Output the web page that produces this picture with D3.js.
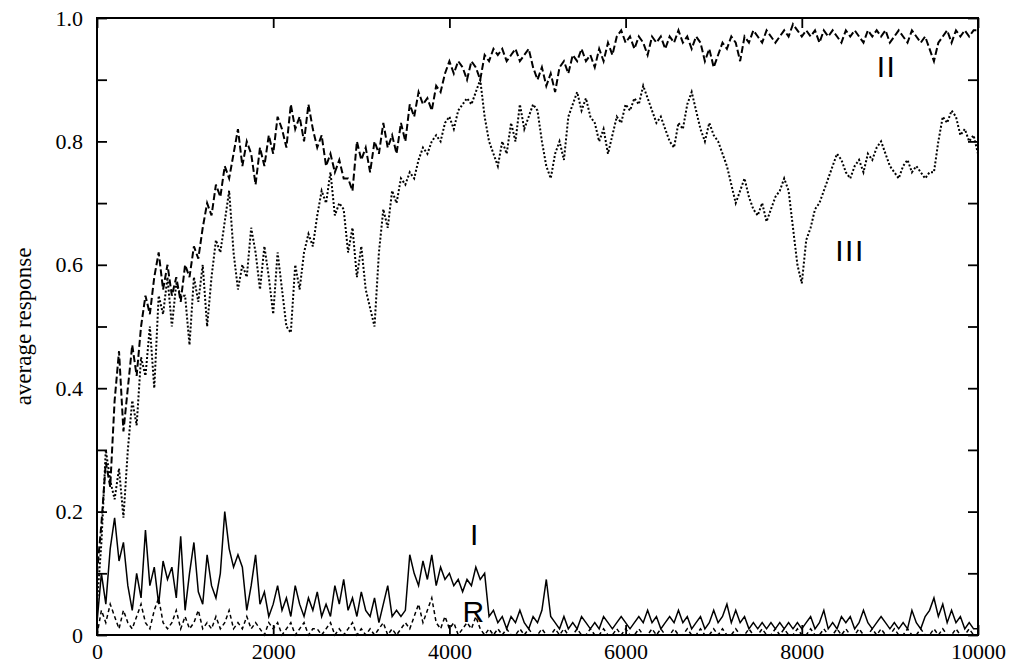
<!DOCTYPE html>
<html>
<head>
<meta charset="utf-8">
<script src="https://cdnjs.cloudflare.com/ajax/libs/d3/7.8.5/d3.min.js"></script>
<style>
body { margin: 0; background: #fff; }
</style>
</head>
<body>
<div id="plot"></div>
<script>
// samples are every 50 steps, 0..10000
const step = 50;

const seriesII = [
  0.10,0.18,0.28,0.24,0.38,0.46,0.33,0.40,0.47,0.42,
  0.50,0.55,0.52,0.58,0.62,0.56,0.60,0.55,0.58,0.54,
  0.60,0.58,0.63,0.61,0.66,0.70,0.68,0.73,0.71,0.76,
  0.74,0.78,0.82,0.76,0.80,0.78,0.73,0.79,0.76,0.81,
  0.78,0.84,0.82,0.79,0.86,0.82,0.84,0.80,0.86,0.82,
  0.79,0.81,0.76,0.78,0.75,0.77,0.74,0.74,0.72,0.80,
  0.77,0.79,0.75,0.80,0.78,0.83,0.79,0.81,0.78,0.83,
  0.80,0.86,0.84,0.88,0.86,0.87,0.85,0.89,0.88,0.91,
  0.93,0.91,0.93,0.92,0.90,0.93,0.92,0.90,0.94,0.93,
  0.95,0.94,0.95,0.93,0.94,0.95,0.93,0.94,0.95,0.92,
  0.90,0.92,0.89,0.91,0.88,0.92,0.93,0.91,0.94,0.93,
  0.95,0.93,0.94,0.92,0.95,0.93,0.96,0.94,0.97,0.98,
  0.96,0.97,0.95,0.97,0.96,0.94,0.97,0.96,0.97,0.95,
  0.97,0.96,0.98,0.96,0.97,0.95,0.97,0.96,0.93,0.95,
  0.92,0.94,0.96,0.95,0.97,0.96,0.93,0.97,0.96,0.98,
  0.97,0.96,0.98,0.97,0.96,0.97,0.98,0.97,0.99,0.98,
  0.97,0.98,0.97,0.98,0.96,0.98,0.97,0.98,0.97,0.96,
  0.98,0.97,0.98,0.97,0.96,0.98,0.97,0.98,0.97,0.98,
  0.96,0.97,0.98,0.97,0.96,0.98,0.97,0.96,0.97,0.95,
  0.93,0.96,0.97,0.98,0.96,0.98,0.97,0.98,0.97,0.98,0.98
];

const seriesIII = [
  0.05,0.15,0.30,0.25,0.22,0.27,0.19,0.30,0.38,0.34,
  0.45,0.42,0.50,0.40,0.55,0.52,0.58,0.50,0.57,0.55,
  0.55,0.47,0.58,0.54,0.60,0.50,0.58,0.64,0.62,0.67,
  0.72,0.62,0.56,0.60,0.58,0.66,0.62,0.56,0.63,0.58,
  0.52,0.62,0.56,0.50,0.49,0.60,0.56,0.62,0.65,0.63,
  0.68,0.72,0.70,0.75,0.68,0.70,0.69,0.62,0.66,0.58,
  0.63,0.56,0.53,0.50,0.62,0.69,0.66,0.72,0.70,0.74,
  0.73,0.75,0.74,0.77,0.79,0.78,0.80,0.81,0.80,0.83,
  0.84,0.82,0.85,0.86,0.87,0.86,0.88,0.90,0.84,0.80,
  0.78,0.76,0.80,0.78,0.83,0.80,0.86,0.82,0.84,0.86,
  0.85,0.80,0.76,0.74,0.78,0.80,0.77,0.84,0.86,0.88,
  0.85,0.87,0.84,0.83,0.80,0.82,0.78,0.81,0.84,0.83,
  0.86,0.85,0.87,0.86,0.89,0.87,0.85,0.83,0.84,0.82,
  0.80,0.79,0.83,0.82,0.86,0.88,0.85,0.82,0.80,0.83,
  0.81,0.80,0.78,0.76,0.73,0.70,0.72,0.74,0.71,0.69,
  0.68,0.70,0.67,0.69,0.71,0.72,0.74,0.72,0.66,0.60,
  0.57,0.64,0.66,0.69,0.70,0.72,0.74,0.76,0.78,0.77,
  0.75,0.74,0.76,0.77,0.75,0.78,0.77,0.79,0.80,0.78,
  0.76,0.75,0.74,0.76,0.77,0.75,0.76,0.75,0.74,0.75,
  0.75,0.80,0.84,0.83,0.85,0.84,0.81,0.82,0.80,0.81,0.78
];

const seriesI = [
  0.02,0.10,0.05,0.14,0.19,0.12,0.15,0.08,0.04,0.10,
  0.06,0.17,0.08,0.11,0.05,0.12,0.09,0.11,0.06,0.16,
  0.04,0.10,0.15,0.07,0.05,0.13,0.08,0.06,0.10,0.20,
  0.14,0.11,0.13,0.11,0.04,0.08,0.13,0.05,0.07,0.03,
  0.05,0.08,0.04,0.06,0.03,0.08,0.05,0.03,0.06,0.04,
  0.07,0.03,0.05,0.03,0.08,0.05,0.09,0.04,0.06,0.03,
  0.07,0.04,0.03,0.06,0.02,0.05,0.08,0.03,0.04,0.03,
  0.04,0.13,0.10,0.08,0.12,0.09,0.13,0.08,0.11,0.09,
  0.10,0.08,0.09,0.07,0.09,0.08,0.11,0.09,0.10,0.03,
  0.04,0.02,0.03,0.01,0.03,0.02,0.04,0.02,0.01,0.03,
  0.02,0.04,0.09,0.03,0.02,0.01,0.03,0.01,0.02,0.01,
  0.03,0.02,0.01,0.02,0.01,0.03,0.02,0.01,0.02,0.03,
  0.02,0.01,0.02,0.03,0.02,0.04,0.02,0.03,0.01,0.02,
  0.03,0.02,0.04,0.02,0.03,0.01,0.02,0.03,0.01,0.02,
  0.04,0.02,0.03,0.05,0.02,0.04,0.02,0.03,0.01,0.02,
  0.01,0.02,0.01,0.02,0.01,0.02,0.01,0.02,0.01,0.02,
  0.01,0.02,0.03,0.01,0.02,0.04,0.01,0.02,0.01,0.03,
  0.02,0.03,0.01,0.02,0.04,0.02,0.01,0.02,0.03,0.02,
  0.01,0.02,0.01,0.02,0.01,0.04,0.02,0.01,0.03,0.04,
  0.06,0.03,0.05,0.02,0.04,0.02,0.03,0.01,0.02,0.01,0.01
];

const seriesR = [
  0.00,0.04,0.02,0.05,0.03,0.01,0.04,0.02,0.01,0.03,
  0.05,0.02,0.01,0.04,0.06,0.02,0.01,0.02,0.04,0.01,
  0.03,0.01,0.02,0.04,0.01,0.02,0.01,0.03,0.01,0.02,
  0.04,0.01,0.02,0.01,0.03,0.01,0.02,0.01,0.00,0.02,
  0.01,0.02,0.00,0.01,0.02,0.00,0.01,0.02,0.00,0.01,
  0.01,0.00,0.01,0.02,0.00,0.01,0.00,0.01,0.02,0.00,
  0.01,0.00,0.01,0.00,0.01,0.02,0.00,0.01,0.00,0.01,
  0.02,0.01,0.03,0.05,0.02,0.04,0.06,0.02,0.01,0.03,
  0.01,0.02,0.00,0.01,0.02,0.01,0.03,0.01,0.00,0.01,
  0.00,0.01,0.00,0.01,0.00,0.00,0.01,0.00,0.01,0.00,
  0.00,0.01,0.00,0.00,0.01,0.00,0.01,0.00,0.00,0.01,
  0.00,0.00,0.01,0.00,0.00,0.01,0.00,0.00,0.01,0.00,
  0.01,0.00,0.00,0.01,0.00,0.00,0.01,0.00,0.01,0.00,
  0.00,0.01,0.00,0.00,0.01,0.00,0.00,0.01,0.00,0.00,
  0.01,0.00,0.01,0.00,0.00,0.01,0.00,0.00,0.01,0.00,
  0.00,0.01,0.00,0.00,0.01,0.00,0.01,0.00,0.00,0.01,
  0.00,0.00,0.01,0.00,0.00,0.01,0.00,0.00,0.01,0.00,
  0.01,0.00,0.00,0.01,0.00,0.00,0.01,0.00,0.01,0.00,
  0.00,0.01,0.00,0.00,0.01,0.00,0.00,0.01,0.00,0.00,
  0.01,0.00,0.01,0.00,0.00,0.01,0.00,0.00,0.01,0.00,0.00
];

const xTicks = [0, 2000, 4000, 6000, 8000, 10000];
const yTicks = [0, 0.1, 0.2, 0.3, 0.4, 0.5, 0.6, 0.7, 0.8, 0.9, 1.0];
const yLabelTicks = [0, 0.2, 0.4, 0.6, 0.8, 1.0];

// curve names and where they are written in the plot
const labelText = ["II", "III", "I", "R"];
const labelX = [8850, 8380, 4290, 4150];
const labelY = [0.904, 0.606, 0.146, 0.021];

const total_width = 1009;
const total_height = 668;
const margin = {left: 97, top: 18, right: 31, bottom: 33};
const width = total_width - margin.left - margin.right;
const height = total_height - margin.top - margin.bottom;

const svg = d3.select("#plot").append("svg")
    .attr("width", total_width).attr("height", total_height)
  .append("g").attr("transform", "translate(" + margin.left + "," + margin.top + ")");

const x = d3.scaleLinear().domain([0, 10000]).range([0, width]);
const y = d3.scaleLinear().domain([0, 1]).range([height, 0]);

const serif = "'Liberation Serif', 'Times New Roman', serif";

// labelled axes, ticks pointing inwards
const yAxis = d3.axisLeft(y).tickValues(yTicks).tickSize(-10).tickPadding(14)
    .tickFormat(d => yLabelTicks.some(t => Math.abs(t - d) < 1e-9) ? (d === 0 ? "0" : d3.format(".1f")(d)) : "");
const xAxis = d3.axisBottom(x).tickValues(xTicks).tickSize(-10).tickPadding(8).tickFormat(d3.format("d"));

svg.append("g").attr("class", "yaxis").call(yAxis);
svg.append("g").attr("class", "xaxis").attr("transform", "translate(0," + height + ")").call(xAxis);
svg.append("g").attr("transform", "translate(" + width + ",0)")
    .call(d3.axisRight(y).tickValues(yTicks).tickSize(-10).tickFormat(""));
svg.append("g")
    .call(d3.axisTop(x).tickValues(xTicks).tickSize(-10).tickFormat(""));

svg.selectAll(".domain").remove();
svg.selectAll(".tick line").attr("stroke", "#000").attr("stroke-width", 1.8);
svg.selectAll(".tick text").style("font-family", serif).style("font-size", "22px").attr("fill", "#000");

svg.append("text")
    .attr("transform", "translate(" + (31 - margin.left) + "," + (height / 2) + ") rotate(-90)")
    .attr("text-anchor", "middle")
    .style("font-family", serif).style("font-size", "23px")
    .text("average response");

// curves
const line = d3.line()
    .x((d, i) => x(i * step))
    .y(d => y(d));

const curves = [
  {data: seriesR, dash: "4,3", w: 1.5},
  {data: seriesI, dash: null, w: 1.5},
  {data: seriesIII, dash: "2,2", w: 2},
  {data: seriesII, dash: "7,3", w: 2}
];

curves.forEach(function(c) {
    svg.append("path").datum(c.data)
        .attr("d", line)
        .attr("fill", "none")
        .attr("stroke", "#000")
        .attr("stroke-width", c.w)
        .attr("stroke-dasharray", c.dash);
});

// frame
svg.append("rect").attr("width", width).attr("height", height)
    .attr("fill", "none").attr("stroke", "#000").attr("stroke-width", 2);

svg.selectAll(".curvelabel").data(labelText).enter().append("text")
    .attr("class", "curvelabel")
    .attr("x", (d, i) => x(labelX[i]))
    .attr("y", (d, i) => y(labelY[i]))
    .attr("text-anchor", (d, i) => d === "I" ? "middle" : "start")
    .style("font-family", "'Liberation Sans', Arial, sans-serif")
    .style("font-size", "30px")
    .style("letter-spacing", "1.5px")
    .text(d => d);
</script>
</body>
</html>
